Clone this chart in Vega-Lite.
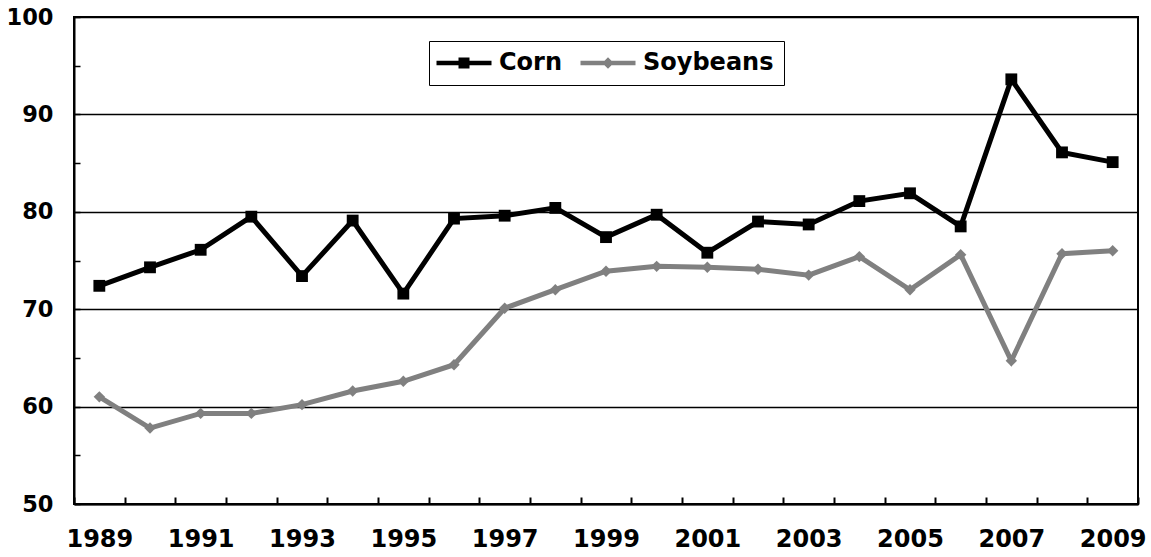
{
  "$schema": "https://vega.github.io/schema/vega-lite/v6.json",
  "width": 1064,
  "height": 487,
  "autosize": {"type": "none"},
  "padding": {"left": 74, "top": 17, "right": 13, "bottom": 53},
  "background": "white",
  "config": {"view": {"stroke": "black", "strokeWidth": 2}, "font": "DejaVu Sans"},
  "data": {"values": [
    {"year": 1989, "crop": "Corn", "value": 72.4},
    {"year": 1990, "crop": "Corn", "value": 74.3},
    {"year": 1991, "crop": "Corn", "value": 76.1},
    {"year": 1992, "crop": "Corn", "value": 79.5},
    {"year": 1993, "crop": "Corn", "value": 73.4},
    {"year": 1994, "crop": "Corn", "value": 79.1},
    {"year": 1995, "crop": "Corn", "value": 71.6},
    {"year": 1996, "crop": "Corn", "value": 79.3},
    {"year": 1997, "crop": "Corn", "value": 79.6},
    {"year": 1998, "crop": "Corn", "value": 80.4},
    {"year": 1999, "crop": "Corn", "value": 77.4},
    {"year": 2000, "crop": "Corn", "value": 79.7},
    {"year": 2001, "crop": "Corn", "value": 75.8},
    {"year": 2002, "crop": "Corn", "value": 79.0},
    {"year": 2003, "crop": "Corn", "value": 78.7},
    {"year": 2004, "crop": "Corn", "value": 81.1},
    {"year": 2005, "crop": "Corn", "value": 81.9},
    {"year": 2006, "crop": "Corn", "value": 78.5},
    {"year": 2007, "crop": "Corn", "value": 93.6},
    {"year": 2008, "crop": "Corn", "value": 86.1},
    {"year": 2009, "crop": "Corn", "value": 85.1},
    {"year": 1989, "crop": "Soybeans", "value": 61.0},
    {"year": 1990, "crop": "Soybeans", "value": 57.8},
    {"year": 1991, "crop": "Soybeans", "value": 59.3},
    {"year": 1992, "crop": "Soybeans", "value": 59.3},
    {"year": 1993, "crop": "Soybeans", "value": 60.2},
    {"year": 1994, "crop": "Soybeans", "value": 61.6},
    {"year": 1995, "crop": "Soybeans", "value": 62.6},
    {"year": 1996, "crop": "Soybeans", "value": 64.3},
    {"year": 1997, "crop": "Soybeans", "value": 70.1},
    {"year": 1998, "crop": "Soybeans", "value": 72.0},
    {"year": 1999, "crop": "Soybeans", "value": 73.9},
    {"year": 2000, "crop": "Soybeans", "value": 74.4},
    {"year": 2001, "crop": "Soybeans", "value": 74.3},
    {"year": 2002, "crop": "Soybeans", "value": 74.1},
    {"year": 2003, "crop": "Soybeans", "value": 73.5},
    {"year": 2004, "crop": "Soybeans", "value": 75.4},
    {"year": 2005, "crop": "Soybeans", "value": 72.0},
    {"year": 2006, "crop": "Soybeans", "value": 75.6},
    {"year": 2007, "crop": "Soybeans", "value": 64.7},
    {"year": 2008, "crop": "Soybeans", "value": 75.7},
    {"year": 2009, "crop": "Soybeans", "value": 76.0}
  ]},
  "encoding": {
    "x": {
      "field": "year", "type": "ordinal",
      "scale": {"paddingInner": 0, "paddingOuter": 0},
      "axis": {
        "title": null, "tickBand": "extent", "tickSize": -7, "tickColor": "black", "tickWidth": 2,
        "domainColor": "black", "domainWidth": 2, "grid": false,
        "labelExpr": "datum.value % 2 == 1 ? datum.label : ''",
        "labelAngle": 0, "labelFont": "DejaVu Sans", "labelFontSize": 24, "labelFontWeight": "bold", "labelColor": "black",
        "labelPadding": 30, "labelOverlap": false
      }
    },
    "y": {
      "field": "value", "type": "quantitative",
      "scale": {"domain": [50, 100], "nice": false, "zero": false},
      "axis": {
        "title": null,
        "values": [50, 55, 60, 65, 70, 75, 80, 85, 90, 95, 100],
        "grid": true, "gridColor": "black", "gridWidth": 1.5,
        "gridOpacity": {"condition": {"test": "datum.value % 10 == 0", "value": 1}, "value": 0},
        "domainColor": "black", "domainWidth": 2,
        "tickColor": "black", "tickSize": -6, "tickWidth": 1.5,
        "labelExpr": "datum.value % 10 == 0 ? datum.label : ''",
        "labelFont": "DejaVu Sans", "labelFontSize": 22.5, "labelFontWeight": "bold", "labelColor": "black",
        "labelPadding": 27, "labelOverlap": false
      }
    },
    "color": {
      "field": "crop", "type": "nominal",
      "scale": {"domain": ["Corn", "Soybeans"], "range": ["#000000", "#808080"]},
      "legend": {
        "orient": "none", "legendX": 355, "legendY": 24, "direction": "horizontal", "title": null,
        "strokeColor": "black", "fillColor": "white", "padding": 10,
        "labelFont": "DejaVu Sans", "labelFontSize": 24, "labelFontWeight": "bold", "labelColor": "black",
        "symbolSize": 100, "symbolOffset": 13, "labelOffset": 23, "columnPadding": 17,
        "encode": {
          "symbols": {
            "update": {
              "shape": {"signal": "datum.value == 'Corn' ? 'M-5.5,-0.45H5.5V0.45H-5.5Z M-1.1,-1.1H1.1V1.1H-1.1Z' : 'M-5.5,-0.45H5.5V0.45H-5.5Z M0,-1.15L1.15,0L0,1.15L-1.15,0Z'"},
              "fill": {"scale": "color", "field": "value"},
              "fillOpacity": {"value": 1},
              "strokeWidth": {"value": 0}
            }
          }
        }
      }
    }
  },
  "layer": [
    {"mark": {"type": "line", "strokeWidth": 5}},
    {
      "transform": [{"filter": "datum.crop == 'Corn'"}],
      "mark": {"type": "point", "shape": "square", "filled": true, "opacity": 1, "size": 140}
    },
    {
      "transform": [{"filter": "datum.crop == 'Soybeans'"}],
      "mark": {"type": "point", "shape": "diamond", "filled": true, "opacity": 1, "size": 130}
    }
  ]
}
